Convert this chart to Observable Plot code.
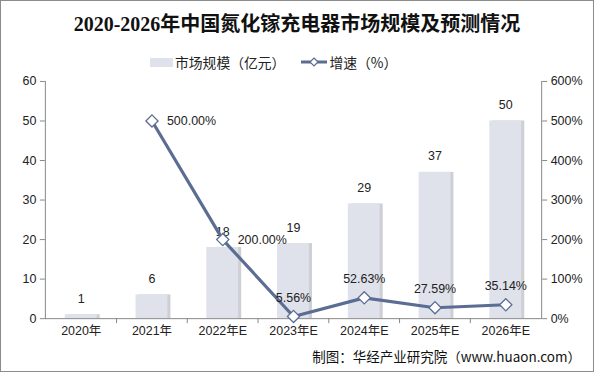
<!DOCTYPE html>
<html><head><meta charset="utf-8">
<script src="https://cdn.jsdelivr.net/npm/d3@7"></script>
<script src="https://cdn.jsdelivr.net/npm/@observablehq/plot@0.6"></script>
<style>
body{margin:0;background:#fff;font-family:"Liberation Sans","Noto Sans CJK SC",sans-serif;}
#wrap{position:relative;width:592px;height:370px;border:1px solid #8c8c8c;overflow:hidden;background:#fff;}
#title{position:absolute;top:7px;left:0;width:592px;text-align:center;font-family:"Liberation Serif","Noto Sans CJK SC",serif;font-weight:bold;font-size:20px;color:#111;}
#legend{position:absolute;top:51px;left:149px;height:20px;font-size:13.8px;color:#222;font-family:"Noto Sans CJK SC",sans-serif;display:flex;align-items:center;white-space:nowrap;}
#legend span{display:inline-flex;align-items:center;}
#chart{position:absolute;top:70px;left:0;}
#caption{position:absolute;top:345px;right:12px;font-size:13.5px;color:#111;font-family:"Noto Sans CJK SC",sans-serif;}
</style></head>
<body>
<div id="wrap">
<div id="title"></div>
<div id="legend"></div>
<div id="chart"></div>
<div id="caption"></div>
</div>
<script>
const titleText = "2020-2026年中国氮化镓充电器市场规模及预测情况";
const legendBar = "市场规模（亿元）";
const legendLine = "增速（%）";
const captionText = "制图：华经产业研究院（www.huaon.com）";
const years = ["2020年","2021年","2022年E","2023年E","2024年E","2025年E","2026年E"];
const marketSize = [1,6,18,19,29,37,50];
const growth = [null,500,200,5.56,52.63,27.59,35.14];
const growthLabels = ["","500.00%","200.00%","5.56%","52.63%","27.59%","35.14%"];
const leftTicks = [0,10,20,30,40,50,60];
const rightTicks = [0,100,200,300,400,500,600];

const barColor = "#dfe1eb";
const lineColor = "#5b6d93";

document.getElementById("title").textContent = titleText;
document.getElementById("caption").textContent = captionText;
document.getElementById("legend").innerHTML =
  `<span><svg width="23" height="10" style="margin-right:2px"><rect width="23" height="9" y="1" fill="${barColor}"/></svg>${legendBar}</span>` +
  `<span style="margin-left:16px"><svg width="26" height="12" style="margin-right:2px"><line x1="0" x2="26" y1="6" y2="6" stroke="${lineColor}" stroke-width="3"/><path d="M13 2 L17 6 L13 10 L9 6 Z" fill="#fff" stroke="${lineColor}" stroke-width="1.2"/></svg>${legendLine}</span>`;

const bars = years.map((y,i)=>({year:y, v:marketSize[i]}));
const pts = years.map((y,i)=>({year:y, g:growth[i], s: growth[i]==null?null:growth[i]/10, label:growthLabels[i]})).filter(d=>d.g!=null);
const sideLabels = pts.filter(d=>d.g>=100);
const topLabels = pts.filter(d=>d.g<100);

const plot = Plot.plot({
  width: 594,
  height: 275,
  marginLeft: 44,
  marginRight: 52,
  marginTop: 10,
  marginBottom: 27,
  style: {fontFamily: '"Liberation Sans","Noto Sans CJK SC",sans-serif', fontSize: "12px", color: "#222", background: "transparent"},
  x: {domain: years, paddingInner: 0.55, paddingOuter: 0.275, label: null},
  y: {domain: [0,60], label: null},
  marks: [
    Plot.barY(bars, {x:"year", y:"v", fill:"#b9bac2", fillOpacity:0.7, dx:3}),
    Plot.barY(bars, {x:"year", y:"v", fill:barColor}),
    Plot.text(bars, {x:"year", y:"v", text:d=>String(d.v), dy:-16, fontSize:12.5, fill:"#222"}),
    Plot.ruleY([0], {stroke:"#888"}),
    Plot.frame({anchor:"left", stroke:"#888"}),
    Plot.frame({anchor:"right", stroke:"#888"}),
    Plot.axisY(leftTicks, {anchor:"left", tickSize:5, tickPadding:4, stroke:"#888", fontSize:12.5, fill:"#222", label:null}),
    Plot.axisY(rightTicks.map(d=>d/10), {anchor:"right", tickSize:5, tickPadding:4, stroke:"#888", fontSize:12.5, fill:"#222", tickFormat:d=>(d*10)+"%", label:null}),
    Plot.axisX(years.slice(1), {tickSize:5, dx:-35.6, tickFormat:()=>"", stroke:"#888"}),
    Plot.axisX(years, {tickSize:0, tickPadding:8, fontSize:12.5, fill:"#222", label:null}),
    Plot.line(pts, {x:"year", y:"s", stroke:lineColor, strokeWidth:3.2}),
    Plot.dot(pts, {x:"year", y:"s", symbol:"diamond2", r:5.5, fill:"#fff", stroke:lineColor, strokeWidth:1.3}),
    Plot.text(sideLabels, {x:"year", y:"s", text:"label", textAnchor:"start", dx:15, fontSize:12.5, fill:"#222"}),
    Plot.text(topLabels, {x:"year", y:"s", text:"label", dy:-19, fontSize:12.5, fill:"#222"})
  ]
});
document.getElementById("chart").appendChild(plot);
</script>
</body></html>
